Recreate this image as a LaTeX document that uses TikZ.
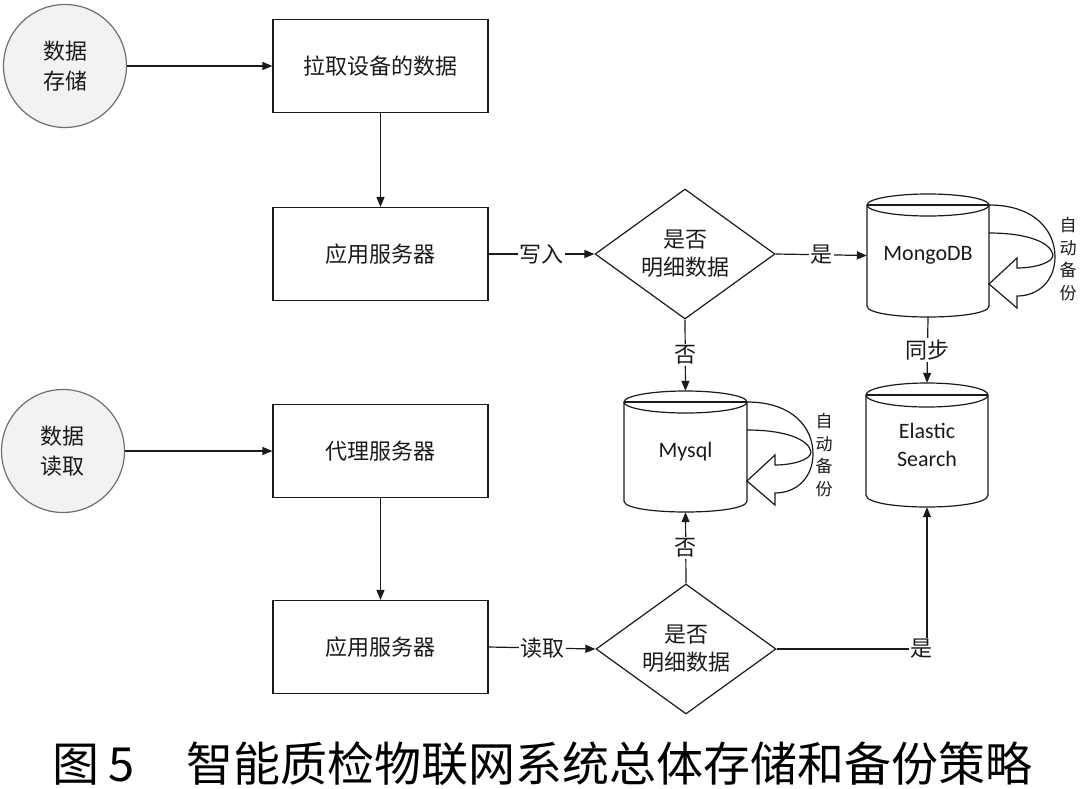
\documentclass[tikz,border=0pt]{standalone}
\usepackage{fontspec}
\setmainfont{Noto Sans CJK SC}
\newfontfamily\latfont{Carlito}
\usetikzlibrary{arrows.meta,shapes.geometric}
\definecolor{circfill}{HTML}{F2F2F2}
\definecolor{circline}{HTML}{6E6E6E}
\definecolor{inkc}{HTML}{1A1A1A}
\newcommand\dbcyl[5]{% cx, ytop, ybot, rx, ry
  \draw[ln] (#1-#4,#2+#5) -- (#1-#4,#3-#5) .. controls (#1-#4,#3-#5+1.333*#5) and (#1+#4,#3-#5+1.333*#5) .. (#1+#4,#3-#5) -- (#1+#4,#2+#5);
  \draw[ln] (#1,#2+#5) ellipse [x radius=#4pt, y radius=#5pt];
  \draw[ln] (#1-#4,#2+#5) -- (#1+#4,#2+#5);}
\tikzset{
  ln/.style={draw=inkc, line width=1.2pt},
  arr/.style={ln, -{Triangle[length=10pt,width=8pt]}},
  txt/.style={font=\fontsize{22pt}{29pt}\selectfont, text=inkc, align=center},
  boxn/.style={txt, draw=inkc, line width=1.2pt, minimum width=215pt, minimum height=93pt, inner sep=0pt},
  circn/.style={txt, circle, draw=circline, fill=circfill, line width=1.2pt, minimum size=123pt, inner sep=0pt, font=\fontsize{22pt}{30pt}\selectfont},
  dian/.style={txt, diamond, draw=inkc, line width=1.2pt, aspect=1.36, inner sep=0pt, minimum width=180pt, minimum height=130pt, font=\fontsize{22pt}{28pt}\selectfont},
  dbn/.style={txt, minimum width=122pt, inner sep=0pt, font=\latfont\fontsize{22pt}{28pt}\selectfont},
  lbl/.style={txt, fill=white, inner sep=1.5pt},
  vlbl/.style={text=inkc, align=center, font=\fontsize{17pt}{22.5pt}\selectfont, inner sep=0pt},
  bkarrow/.pic={
    \draw[ln] (0,0) .. controls (45,0) and (66,25) .. (66,52) .. controls (66,75) and (50,91) .. (28,91)
      -- (28,103) -- (0,79) -- (28,53) -- (28,63)
      .. controls (45,63) and (64,58) .. (64,50) .. controls (62,38) and (40,28) .. (0,28);
  }
}
\begin{document}
\begin{tikzpicture}[x=1pt,y=-1pt]
\useasboundingbox (0,0) rectangle (1080,788);

% left column
\node[circn] (c1) at (65,66) {数据\\存储};
\node[boxn] (b1) at (380.5,66) {拉取设备的数据};
\node[boxn] (b2) at (380.5,254) {应用服务器};
\node[circn] (c2) at (63,451) {数据\\读取};
\node[boxn] (b3) at (380.5,451) {代理服务器};
\node[boxn] (b4) at (380.5,647) {应用服务器};

% diamonds
\node[dian] (d1) at (685,254) {是否\\明细数据};
\node[dian] (d2) at (686,649) {是否\\明细数据};

% databases
\dbcyl{928}{194}{317}{61}{11}
\node[dbn, minimum height=123pt] (mg) at (928,255.5) {MongoDB};
\dbcyl{685.5}{391}{512}{61.5}{11}
\node[dbn, minimum height=121pt] (my) at (685.5,451.5) {Mysql};
\dbcyl{927}{383}{507}{61}{12}
\node[dbn, minimum height=124pt] (es) at (927,445) {Elastic\\Search};

% automatic backup arrows
\pic at (989,205) {bkarrow};
\pic at (747,402) {bkarrow};
\node[vlbl] (v1) at (1068,259) {自\\动\\备\\份};
\node[vlbl] (v2) at (824,455) {自\\动\\备\\份};

% connectors
\draw[arr] (c1) -- (b1);
\draw[arr] (b1) -- (b2);
\draw[arr] (c2) -- (b3);
\draw[arr] (b3) -- (b4);
\draw[arr] (b2.east) -- node[lbl] {写入} (d1.west);
\draw[arr] (d1.east) -- node[lbl] {是} (mg.west);
\draw[arr] (d1.south) -- node[lbl] {否} (my.north);
\draw[arr] (mg.south) -- node[lbl] {同步} (es.north);
\draw[arr] (b4.east) -- node[lbl] {读取} (d2.west);
\draw[arr] (d2.north) -- node[lbl] {否} (my.south);
\draw[arr] (d2.east) -| node[lbl, pos=0.5, xshift=-6pt] {是} (es.south);

% caption
\node[anchor=base west, inner sep=0pt, text=black, font=\fontsize{47pt}{47pt}\selectfont] (cap) at (52,781) {图\hspace{9pt}5\hspace{52pt}智能质检物联网系统总体存储和备份策略};
\end{tikzpicture}
\end{document}
